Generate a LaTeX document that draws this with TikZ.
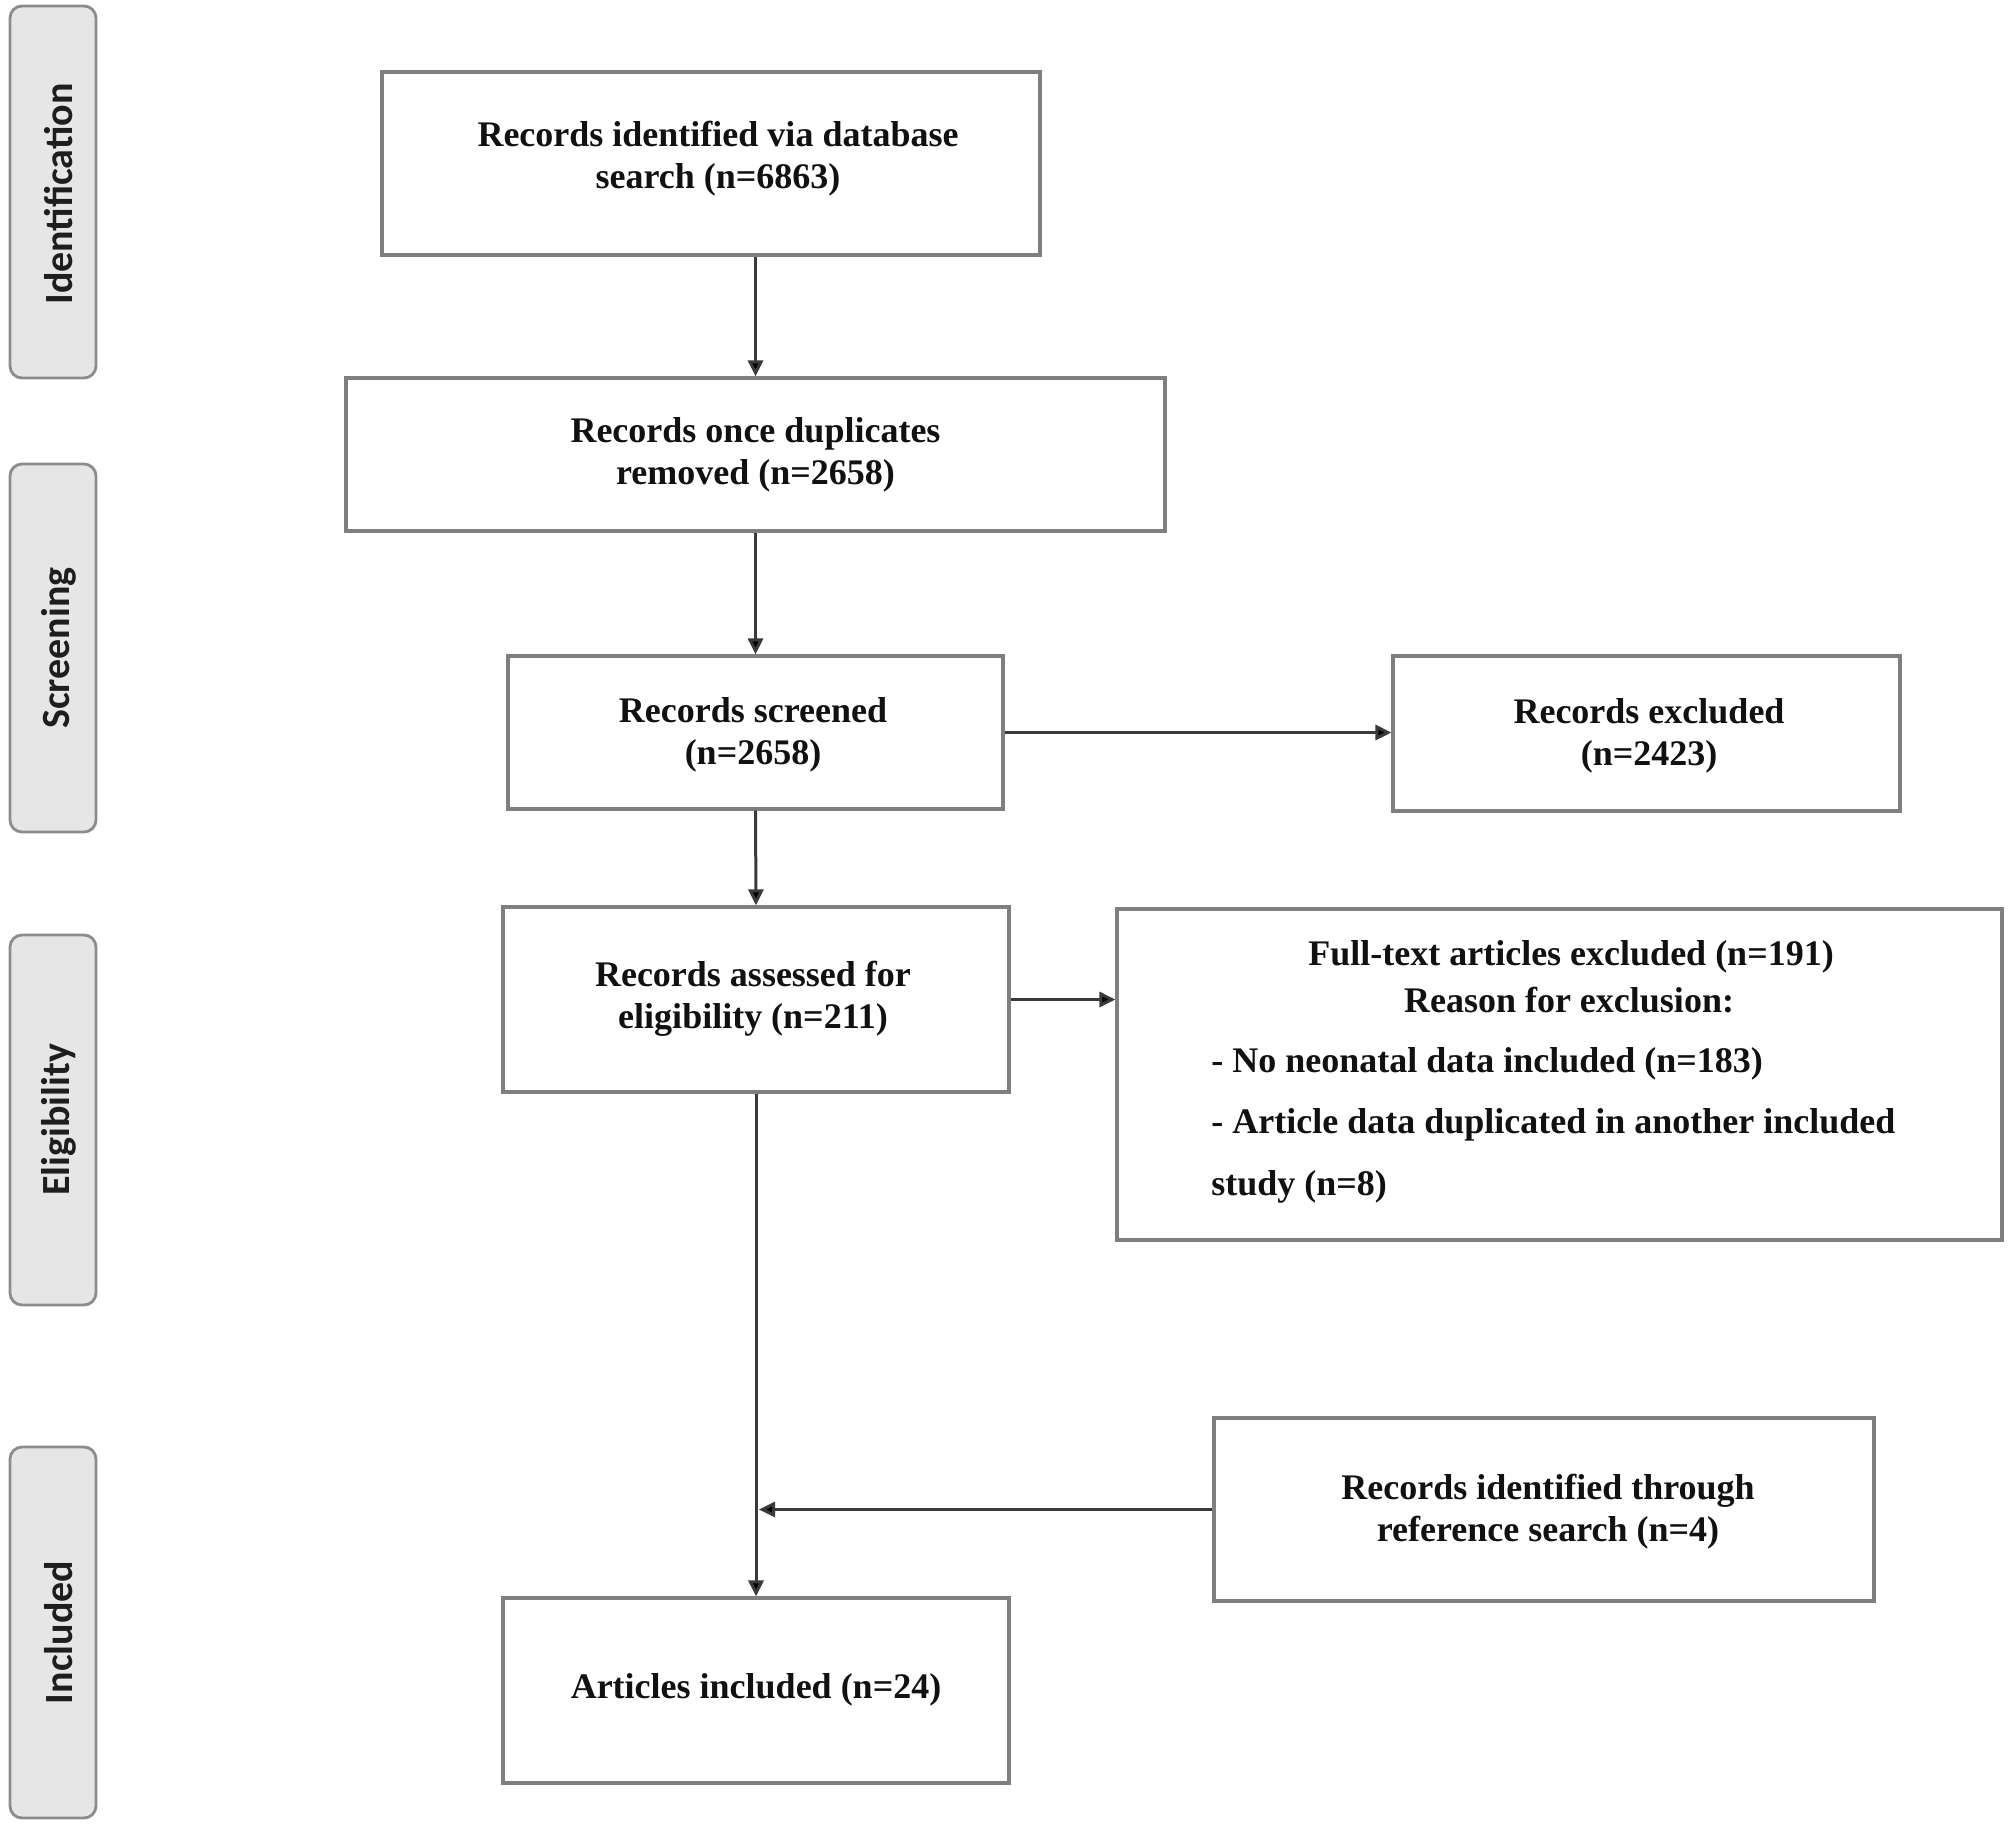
\documentclass[tikz,border=0pt]{standalone}
\usepackage{fontspec}
\setmainfont{Liberation Serif}
\newfontfamily\barfont{Carlito}
\usetikzlibrary{arrows.meta}
\definecolor{boxgray}{HTML}{7F7F7F}
\definecolor{bargray}{HTML}{8C8C8C}
\definecolor{barfill}{HTML}{E6E6E6}
\definecolor{bartxt}{HTML}{1E1E1E}
\definecolor{arrowgray}{HTML}{3A3A3A}
\definecolor{txt}{HTML}{111111}
\begin{document}
\begin{tikzpicture}[x=0.5pt,y=-0.5pt,
  box/.style={draw=boxgray,line width=1.6pt,fill=white,align=center,text=txt,
    font=\bfseries\fontsize{18}{21}\selectfont,inner sep=0pt},
  plain/.style={text=txt,font=\bfseries\fontsize{18}{21}\selectfont,inner sep=0pt},
  bar/.style={draw=bargray,line width=1.4pt,fill=barfill,rounded corners=6pt,
    minimum width=43pt,inner sep=0pt},
  bartext/.style={rotate=90,font=\barfont\bfseries\fontsize{20}{24}\selectfont,text=bartxt},
  arr/.style={draw=arrowgray,line width=1.5pt,-{Triangle[length=8pt,width=7.5pt,fill=black]}}]
\useasboundingbox[fill=white] (0,0) rectangle (2008,1825);

% side bars
\node[bar,minimum height=186pt] (sid) at (53,192) {};
\node[bartext] (tid) at (59,194) {Identification};
\node[bar,minimum height=184pt] (ssc) at (53,648) {};
\node[bartext] (tsc) at (59,648) {Screening};
\node[bar,minimum height=185pt] (sel) at (53,1120) {};
\node[bartext] (tel) at (59,1120) {Eligibility};
\node[bar,minimum height=185.5pt] (sin) at (53,1632.5) {};
\node[bartext] (tin) at (59,1632.5) {Included};

% boxes
\node[box,minimum width=329pt,minimum height=91.5pt] (b1) at (711,163.5) {};
\node[plain,align=center] (t1) at (718,159) {Records identified via database\\search (n=6863)};
\node[box,minimum width=409.5pt,minimum height=76.5pt] (b2) at (755.5,454.5) {Records once duplicates\\removed (n=2658)};
\node[box,minimum width=247.5pt,minimum height=76.5pt] (b3) at (755.5,732.5) {};
\node[plain,align=center] (t3) at (753,735) {Records screened\\(n=2658)};
\node[box,minimum width=253.5pt,minimum height=77.5pt] (b4) at (1646.5,733.5) {};
\node[plain,align=center] (t4) at (1649,736) {Records excluded\\(n=2423)};
\node[box,minimum width=253pt,minimum height=92.5pt] (b5) at (756,999.5) {};
\node[plain,align=center] (t5) at (753,999) {Records assessed for\\eligibility (n=211)};
\node[box,minimum width=442.5pt,minimum height=165.5pt] (b6) at (1559.5,1074.5) {};
\node[plain] (t6a) at (1571,957) {Full-text articles excluded (n=191)};
\node[plain] (t6b) at (1569,1000) {Reason for exclusion:};
\node[plain,anchor=west] (t6c) at (1211,1064) {- No neonatal data included (n=183)};
\node[plain,anchor=west] (t6d) at (1211,1125) {- Article data duplicated in another included};
\node[plain,anchor=west] (t6e) at (1211,1187) {study (n=8)};
\node[box,minimum width=330pt,minimum height=91.5pt] (b7) at (1544,1509.5) {};
\node[plain,align=center] (t7) at (1548,1512) {Records identified through\\reference search (n=4)};
\node[box,minimum width=253pt,minimum height=92.5pt] (b8) at (756,1690.5) {};
\node[plain] (t8) at (756,1690) {Articles included (n=24)};

% connectors
\draw[arr] (b1.south -| b2.north) -- (b2.north);
\draw[arr] (b2.south) -- (b3.north);
\draw[arr] (b3.east) -- (b3.east -| b4.west);
\draw[arr] (b3.south) -- (b5.north);
\draw[arr] (b5.east) -- (b5.east -| b6.west);
\draw[arr] (b5.south) -- (b8.north);
\draw[arr,shorten >=1.5pt] (b7.west) -- (b7.west -| b5.south);
\end{tikzpicture}
\end{document}
